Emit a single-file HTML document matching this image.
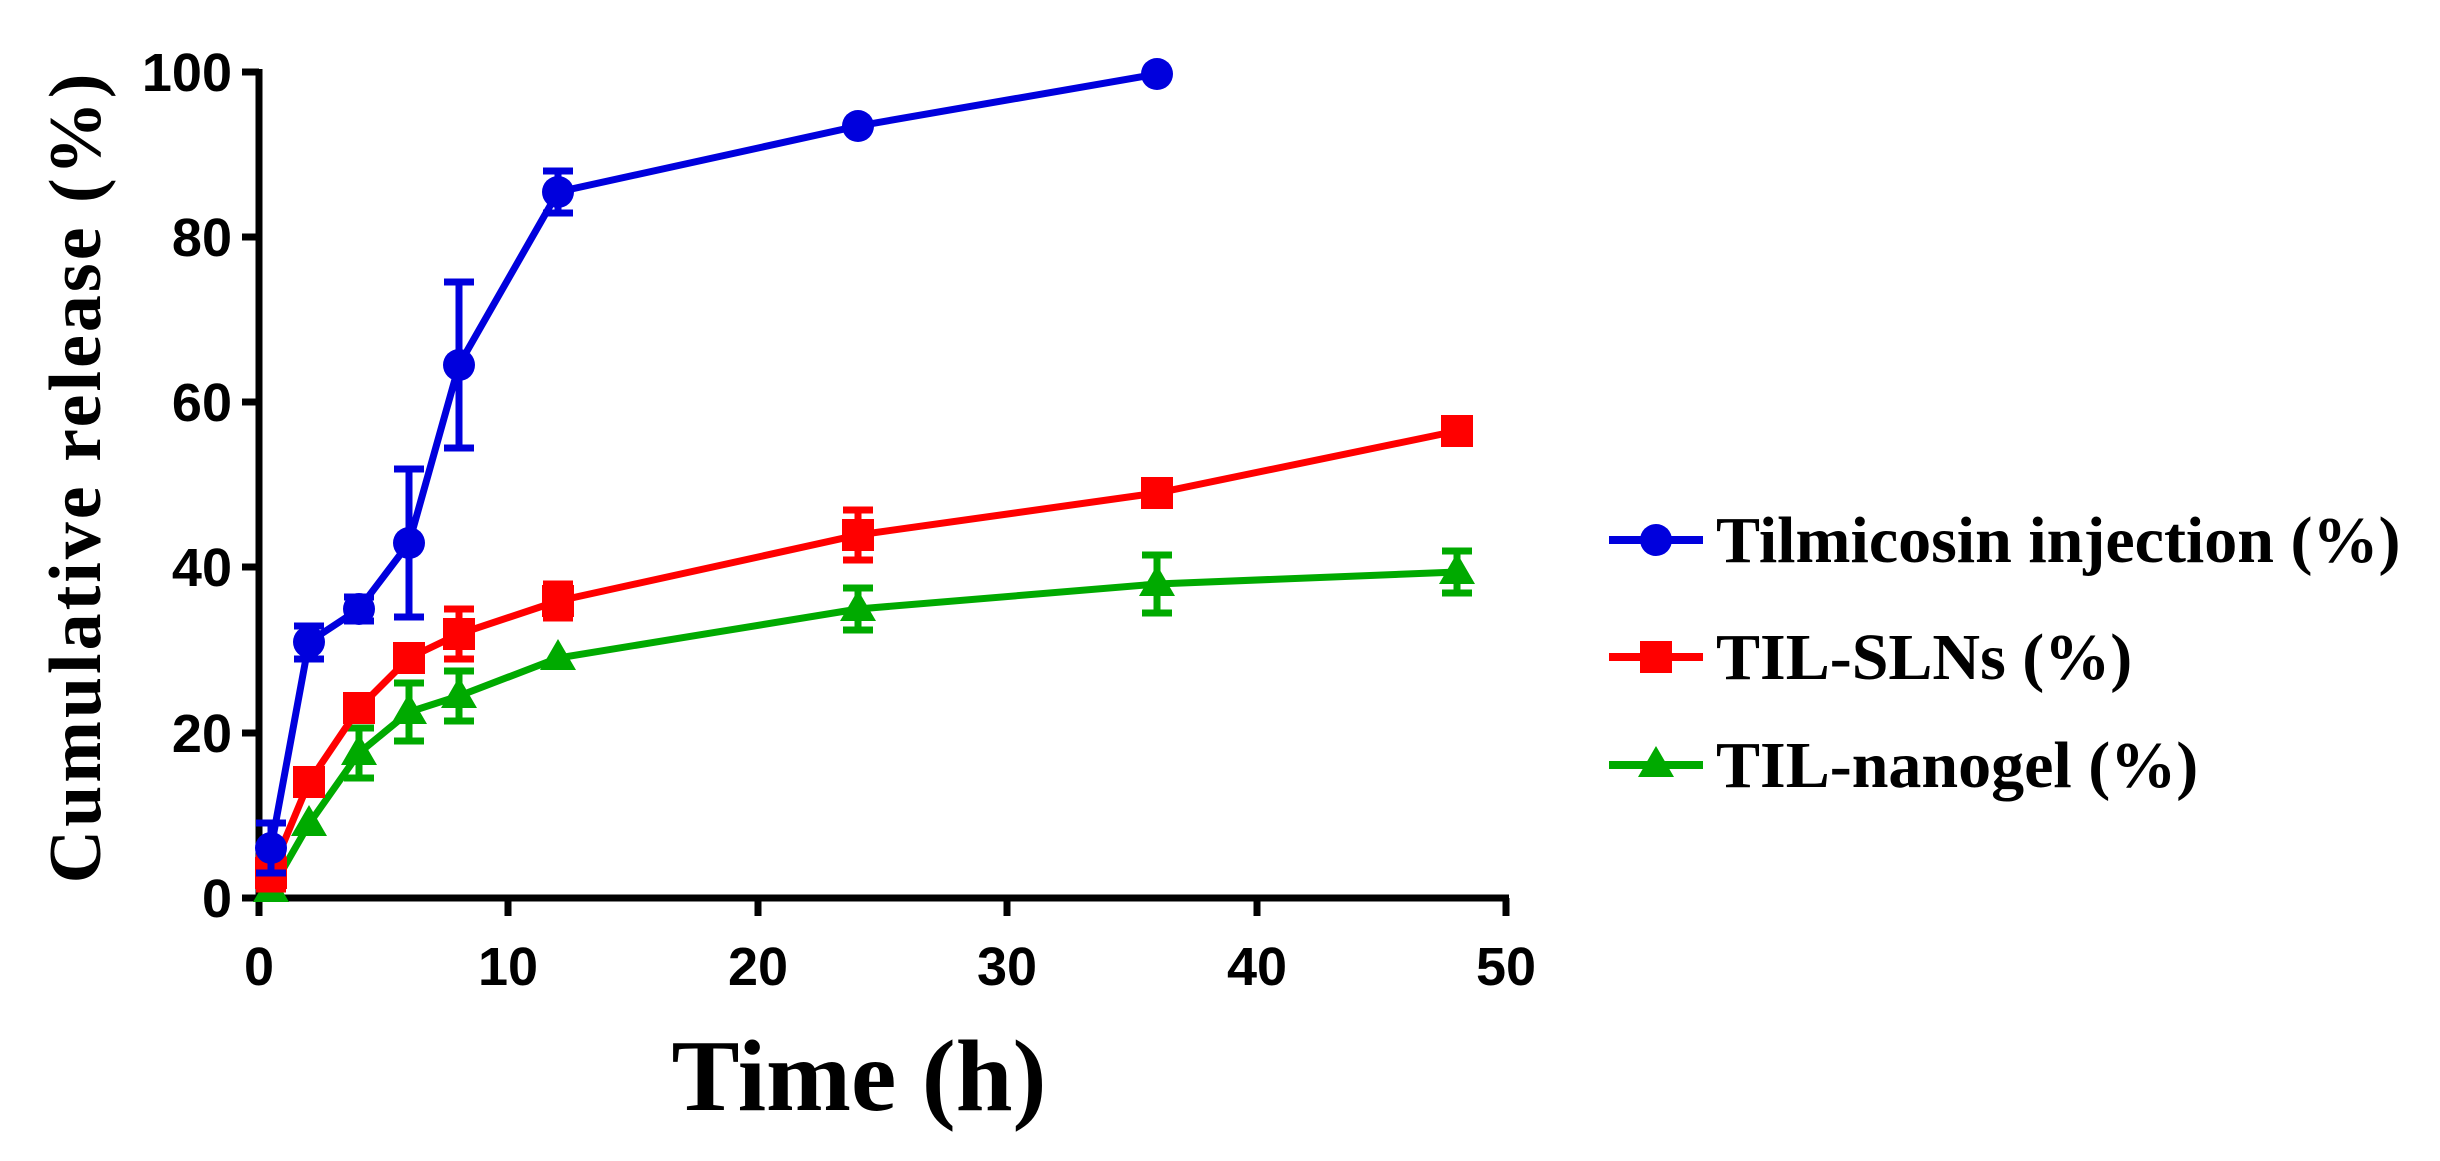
<!DOCTYPE html>
<html><head><meta charset="utf-8"><style>
html,body{margin:0;padding:0;background:#fff;}
svg{display:block;}
</style></head><body>
<svg width="2440" height="1161" viewBox="0 0 2440 1161" xmlns="http://www.w3.org/2000/svg">
<rect width="2440" height="1161" fill="#fff"/>
<g stroke="#000" stroke-width="7" fill="none">
<line x1="259" y1="69" x2="259" y2="901"/>
<line x1="255" y1="898" x2="1509" y2="898"/>
<line x1="242" y1="898" x2="259" y2="898"/>
<line x1="242" y1="733" x2="259" y2="733"/>
<line x1="242" y1="567" x2="259" y2="567"/>
<line x1="242" y1="402" x2="259" y2="402"/>
<line x1="242" y1="237" x2="259" y2="237"/>
<line x1="242" y1="72" x2="259" y2="72"/>
<line x1="259" y1="898" x2="259" y2="916"/>
<line x1="508" y1="898" x2="508" y2="916"/>
<line x1="758" y1="898" x2="758" y2="916"/>
<line x1="1007" y1="898" x2="1007" y2="916"/>
<line x1="1257" y1="898" x2="1257" y2="916"/>
<line x1="1506" y1="898" x2="1506" y2="916"/>
</g>
<g font-family="Liberation Sans, Arial, sans-serif" font-weight="bold" font-size="54" fill="#000">
<g text-anchor="end">
<text x="232" y="917">0</text>
<text x="232" y="752">20</text>
<text x="232" y="586">40</text>
<text x="232" y="421">60</text>
<text x="232" y="256">80</text>
<text x="232" y="91">100</text>
</g>
<g text-anchor="middle">
<text x="259" y="985">0</text>
<text x="508" y="985">10</text>
<text x="758" y="985">20</text>
<text x="1007" y="985">30</text>
<text x="1257" y="985">40</text>
<text x="1506" y="985">50</text>
</g>
</g>
<text transform="translate(100,477) rotate(-90)" text-anchor="middle" font-family="Liberation Serif, serif" font-weight="bold" font-size="74" letter-spacing="3">Cumulative release (%)</text>
<text x="859" y="1110" text-anchor="middle" font-family="Liberation Serif, serif" font-weight="bold" font-size="102">Time (h)</text>

<g stroke="#00aa00" fill="#00aa00" stroke-width="7">
<polyline fill="none" points="271,890 309,824 359,753 409,712 459,696 558,658 858,609 1157,584 1457,572"/>
<path fill="none" d="M359,728V778M344,728H374M344,778H374 M409,683V741M394,683H424M394,741H424 M459,671V721M444,671H474M444,721H474 M858,588V630M843,588H873M843,630H873 M1157,555V613M1142,555H1172M1142,613H1172 M1457,551V593M1442,551H1472M1442,593H1472"/>
<g stroke="none">
<polygon points="271,871 289,902 253,902"/>
<polygon points="309,805 327,836 291,836"/>
<polygon points="359,734 377,765 341,765"/>
<polygon points="409,693 427,724 391,724"/>
<polygon points="459,677 477,708 441,708"/>
<polygon points="558,639 576,670 540,670"/>
<polygon points="858,590 876,621 840,621"/>
<polygon points="1157,565 1175,596 1139,596"/>
<polygon points="1457,553 1475,584 1439,584"/>
</g>
</g>
<g stroke="#ff0000" fill="#ff0000" stroke-width="7">
<polyline fill="none" points="271,873 309,782 359,708 409,658 459,634 558,601 858,535 1157,493 1457,431"/>
<path fill="none" d="M271,856V889M256,856H286M256,889H286 M459,609V659M444,609H474M444,659H474 M558,584V618M543,584H573M543,618H573 M858,510V560M843,510H873M843,560H873 M1157,481V505M1142,481H1172M1142,505H1172"/>
<g stroke="none">
<rect x="255" y="857" width="32" height="32"/>
<rect x="293" y="766" width="32" height="32"/>
<rect x="343" y="692" width="32" height="32"/>
<rect x="393" y="642" width="32" height="32"/>
<rect x="443" y="618" width="32" height="32"/>
<rect x="542" y="585" width="32" height="32"/>
<rect x="842" y="519" width="32" height="32"/>
<rect x="1141" y="477" width="32" height="32"/>
<rect x="1441" y="415" width="32" height="32"/>
</g>
</g>
<g stroke="#0000dd" fill="#0000dd" stroke-width="7">
<polyline fill="none" points="271,848 309,642 359,609 409,543 459,365 558,192 858,126 1157,74"/>
<path fill="none" d="M271,823V873M256,823H286M256,873H286 M309,626V659M294,626H324M294,659H324 M359,597V621M344,597H374M344,621H374 M409,469V617M394,469H424M394,617H424 M459,282V448M444,282H474M444,448H474 M558,171V213M543,171H573M543,213H573"/>
<g stroke="none">
<circle cx="271" cy="848" r="16"/>
<circle cx="309" cy="642" r="16"/>
<circle cx="359" cy="609" r="16"/>
<circle cx="409" cy="543" r="16"/>
<circle cx="459" cy="365" r="16"/>
<circle cx="558" cy="192" r="16"/>
<circle cx="858" cy="126" r="16"/>
<circle cx="1157" cy="74" r="16"/>
</g>
</g>
<g font-family="Liberation Serif, serif" font-weight="bold" font-size="66" fill="#000">
<line x1="1609" y1="540" x2="1703" y2="540" stroke="#0000dd" stroke-width="8"/>
<circle cx="1656" cy="540" r="16" fill="#0000dd"/>
<text x="1716" y="562">Tilmicosin injection (%)</text>
<line x1="1609" y1="657" x2="1703" y2="657" stroke="#ff0000" stroke-width="8"/>
<rect x="1640" y="641" width="32" height="32" fill="#ff0000"/>
<text x="1716" y="679">TIL-SLNs (%)</text>
<line x1="1609" y1="765" x2="1703" y2="765" stroke="#00aa00" stroke-width="8"/>
<polygon points="1656,746 1674,777 1638,777" fill="#00aa00"/>
<text x="1716" y="787">TIL-nanogel (%)</text>
</g>
</svg>
</body></html>
